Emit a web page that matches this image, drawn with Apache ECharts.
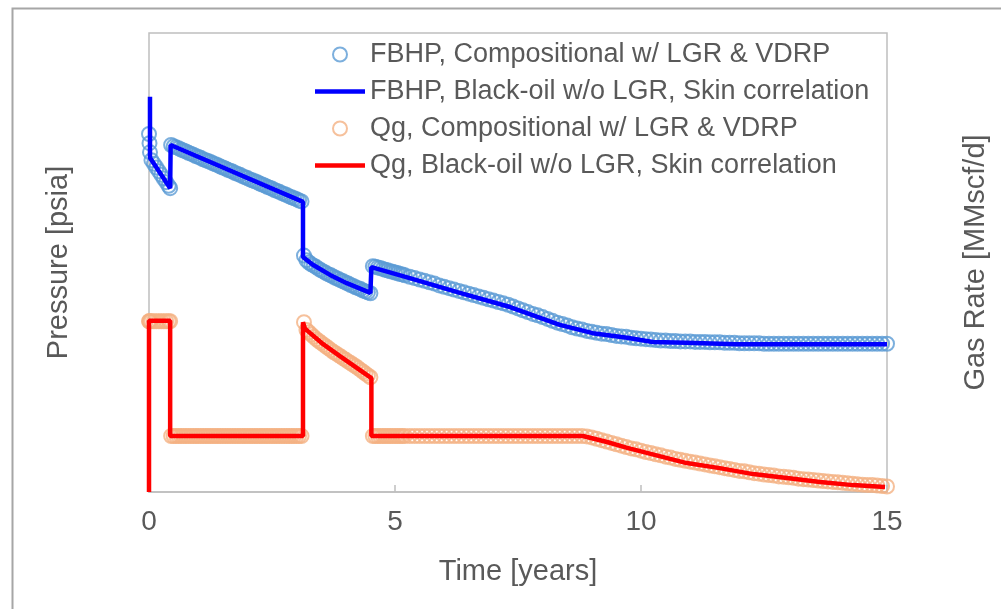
<!DOCTYPE html>
<html>
<head>
<meta charset="utf-8">
<script src="https://cdn.jsdelivr.net/npm/echarts@6/dist/echarts.min.js"></script>
<style>
html,body{margin:0;padding:0;background:#fff;}
#chart{width:1001px;height:609px;}
</style>
</head>
<body>
<div id="chart"></div>
<script>
// ---- Data (y values are relative positions 0-100 on unlabeled axes) ----
var xTicks = [0, 5, 10, 15];
var seriesNames = [
  'FBHP, Compositional w/ LGR & VDRP',
  'FBHP, Black-oil w/o LGR, Skin correlation',
  'Qg, Compositional w/ LGR & VDRP',
  'Qg, Black-oil w/o LGR, Skin correlation'
];

// time [years] of the compositional simulation outputs
var compTime = [
  0,0.01,0.02,0.05,0.1,0.15,0.2,0.25,0.3,0.35,0.4,0.43,
  0.45,0.5,0.55,0.6,0.65,0.7,0.75,0.8,0.85,0.9,
  0.95,1,1.05,1.1,1.15,1.2,1.25,1.3,1.35,1.4,
  1.45,1.5,1.55,1.6,1.65,1.7,1.75,1.8,1.85,1.9,
  1.95,2,2.05,2.1,2.15,2.2,2.25,2.3,2.35,2.4,
  2.45,2.5,2.55,2.6,2.65,2.7,2.75,2.8,2.85,2.9,
  2.95,3,3.05,3.1,
  3.15,3.2,3.25,3.3,3.35,3.4,3.45,3.5,3.55,3.6,
  3.65,3.7,3.75,3.8,3.85,3.9,3.95,4,4.05,4.1,
  4.15,4.2,4.25,4.3,4.35,4.4,4.45,4.5,
  4.55,4.6,4.65,4.7,4.75,4.8,4.85,4.9,4.95,5,5.05,5.1,5.15,5.2,
  5.3,5.4,5.5,5.6,5.7,5.8,5.9,6,6.1,6.2,
  6.3,6.4,6.5,6.6,6.7,6.8,6.9,7,7.1,7.2,
  7.3,7.4,7.5,7.6,7.7,7.8,7.9,8,8.1,8.2,
  8.3,8.4,8.5,8.6,8.7,8.8,8.9,9,9.1,9.2,
  9.3,9.4,9.5,9.6,9.7,9.8,9.9,10,10.1,10.2,
  10.3,10.4,10.5,10.6,10.7,10.8,10.9,11,11.1,11.2,
  11.3,11.4,11.5,11.6,11.7,11.8,11.9,
  12,12.1,12.2,12.3,12.4,12.5,12.6,12.7,12.8,12.9,
  13,13.1,13.2,13.3,13.4,13.5,13.6,13.7,13.8,13.9,
  14,14.1,14.2,14.3,14.4,14.5,14.6,14.7,14.8,14.9,
  15
];

// FBHP, compositional (circles)
var fbhpComp = [
  78.0,76.0,74.0,72.3,71.5,70.7,69.9,69.1,68.3,67.5,66.7,66.2,
  75.6,75.3,75.1,74.9,74.6,74.4,74.2,73.9,73.7,73.5,
  73.2,73.0,72.8,72.5,72.3,72.1,71.9,71.6,71.4,71.2,
  70.9,70.7,70.5,70.2,70.0,69.8,69.5,69.3,69.1,68.8,
  68.6,68.4,68.1,67.9,67.7,67.5,67.2,67.0,66.8,66.5,
  66.3,66.1,65.8,65.6,65.4,65.1,64.9,64.7,64.4,64.2,
  64.0,63.8,63.5,63.3,
  51.5,50.5,50.0,49.6,49.3,49.0,48.6,48.3,48.0,47.7,
  47.4,47.2,46.9,46.6,46.4,46.1,45.9,45.6,45.4,45.1,
  44.9,44.6,44.4,44.2,43.9,43.7,43.5,43.3,
  49.2,49.1,48.9,48.8,48.6,48.4,48.3,48.1,48.0,47.8,47.7,47.5,47.4,47.2,
  46.9,46.6,46.3,46.0,45.7,45.4,45.0,44.7,44.4,44.1,
  43.8,43.5,43.2,42.9,42.6,42.3,42.0,41.7,41.4,41.1,
  40.8,40.4,40.0,39.6,39.2,38.8,38.5,38.1,37.7,37.3,
  36.9,36.6,36.3,35.9,35.6,35.4,35.1,34.9,34.7,34.5,
  34.4,34.2,34.0,33.9,33.8,33.6,33.5,33.4,33.3,33.2,
  33.1,33.0,33.0,32.9,32.9,32.8,32.8,32.8,32.7,32.7,
  32.7,32.6,32.6,32.6,32.5,32.5,32.5,
  32.4,32.4,32.4,32.4,32.4,32.3,32.3,32.3,32.3,32.3,
  32.3,32.3,32.3,32.3,32.3,32.3,32.3,32.3,32.3,32.3,
  32.3,32.3,32.3,32.3,32.3,32.3,32.3,32.3,32.3,32.3,
  32.3
];

// Qg, compositional (circles)
var qgComp = [
  37.2,37.2,37.2,37.2,37.2,37.2,37.2,37.2,37.2,37.2,37.2,37.2,
  12.2,12.2,12.2,12.2,12.2,12.2,12.2,12.2,12.2,12.2,
  12.2,12.2,12.2,12.2,12.2,12.2,12.2,12.2,12.2,12.2,
  12.2,12.2,12.2,12.2,12.2,12.2,12.2,12.2,12.2,12.2,
  12.2,12.2,12.2,12.2,12.2,12.2,12.2,12.2,12.2,12.2,
  12.2,12.2,12.2,12.2,12.2,12.2,12.2,12.2,12.2,12.2,
  12.2,12.2,12.2,12.2,
  37.0,35.3,34.8,34.3,33.8,33.3,32.9,32.5,32.1,31.7,
  31.3,30.9,30.5,30.2,29.8,29.5,29.1,28.8,28.4,28.1,
  27.7,27.4,27.0,26.6,26.2,25.8,25.4,25.0,
  12.2,12.2,12.2,12.2,12.2,12.2,12.2,12.2,12.2,12.2,12.2,12.2,12.2,12.2,
  12.2,12.2,12.2,12.2,12.2,12.2,12.2,12.2,12.2,12.2,
  12.2,12.2,12.2,12.2,12.2,12.2,12.2,12.2,12.2,12.2,
  12.2,12.2,12.2,12.2,12.2,12.2,12.2,12.2,12.2,12.2,
  12.2,12.2,12.2,12.2,12.2,12.2,12.1,11.9,11.6,11.3,
  11.0,10.7,10.4,10.1,9.8,9.5,9.3,9.0,8.7,8.5,
  8.2,8.0,7.7,7.5,7.2,7.0,6.8,6.6,6.4,6.2,
  6.0,5.8,5.6,5.4,5.2,5.0,4.8,
  4.6,4.5,4.3,4.1,4.0,3.8,3.7,3.6,3.4,3.3,
  3.2,3.1,2.9,2.8,2.7,2.6,2.5,2.4,2.3,2.2,
  2.1,2.0,1.9,1.8,1.7,1.6,1.5,1.5,1.4,1.3,
  1.2
];

// Black-oil model lines (vertices)
var boFbhpTime = [0.02,0.02,0.43,0.44,3.13,3.13,3.33,3.68,4.02,4.5,4.52,5.3,6.32,7.34,8.35,9.02,9.72,10.24,10.93,11.95,15];
var boFbhpVal  = [86.1,72.8,66.2,75.6,63.2,51.2,49.5,47.3,45.5,43.4,49.0,46.6,43.4,40.3,36.4,34.6,33.6,32.7,32.5,32.2,32.2];
var boQgTime = [0,0,0.43,0.43,3.13,3.13,3.17,3.54,3.88,4.23,4.52,4.52,8.82,9.31,9.72,9.98,10.93,11.6,12.28,12.97,13.64,14.31,14.96];
var boQgVal  = [0,37.3,37.3,12.2,12.2,37.0,35.6,32.2,29.6,27.0,24.8,12.2,12.2,10.9,9.6,8.9,6.3,5.2,3.9,3.05,2.2,1.5,1.1];

function pairs(xs, ys) {
  var out = [], n = Math.min(xs.length, ys.length);
  for (var i = 0; i < n; i++) out.push([xs[i], ys[i]]);
  return out;
}

var FONT = "'Liberation Sans', Arial, sans-serif";
var TXT = '#595959';
var LINE_ICON = 'path://M0,0H50V4.5H0Z';
var BLUE_C = '#5b9bd5', ORANGE_C = '#f4b183';
var chart = echarts.init(document.getElementById('chart'), null, {renderer: 'canvas'});
chart.setOption({
  animation: false,
  backgroundColor: '#ffffff',
  graphic: [{
    type: 'rect', left: 10, top: 6, z: -10, silent: true,
    shape: {x: 0, y: 0, width: 1100, height: 700},
    style: {fill: 'none', stroke: '#a6a6a6', lineWidth: 2}
  }],
  grid: {
    left: 149, top: 33, right: 114, bottom: 117,
    show: true, borderColor: '#bfbfbf', borderWidth: 1.5, backgroundColor: 'transparent'
  },
  legend: {
    orient: 'vertical', left: 315, top: 41, padding: 0,
    itemWidth: 50, itemHeight: 14, itemGap: 10,
    textStyle: {fontFamily: FONT, fontSize: 27, color: TXT},
    data: [
      {name: seriesNames[0], icon: 'emptyCircle', itemStyle: {color: BLUE_C, borderColor: BLUE_C, borderWidth: 1.8}},
      {name: seriesNames[1], icon: LINE_ICON, itemStyle: {color: '#0000ff'}},
      {name: seriesNames[2], icon: 'emptyCircle', itemStyle: {color: ORANGE_C, borderColor: ORANGE_C, borderWidth: 1.8}},
      {name: seriesNames[3], icon: LINE_ICON, itemStyle: {color: '#ff0000'}}
    ]
  },
  xAxis: {
    type: 'value', min: 0, max: 15, interval: 5,
    name: 'Time [years]', nameLocation: 'middle', nameGap: 65,
    nameTextStyle: {fontFamily: FONT, fontSize: 29, color: TXT},
    axisLine: {show: true, lineStyle: {color: '#bfbfbf', width: 1.5}},
    axisTick: {show: true, inside: true, length: 7, lineStyle: {color: '#bfbfbf', width: 1.5}},
    axisLabel: {fontFamily: FONT, fontSize: 28, color: TXT, margin: 16,
      formatter: function (v) { return xTicks.indexOf(v) >= 0 ? String(v) : ''; }},
    splitLine: {show: false}
  },
  yAxis: [{
    type: 'value', min: 0, max: 100, position: 'left',
    name: 'Pressure [psia]', nameLocation: 'middle', nameGap: 76, nameRotate: 90,
    nameTextStyle: {fontFamily: FONT, fontSize: 29, color: TXT},
    axisLine: {show: false}, axisTick: {show: false}, axisLabel: {show: false}, splitLine: {show: false}
  }, {
    type: 'value', min: 0, max: 100, position: 'right',
    name: 'Gas Rate [MMscf/d]', nameLocation: 'middle', nameGap: 74, nameRotate: 90,
    nameTextStyle: {fontFamily: FONT, fontSize: 29, color: TXT},
    axisLine: {show: false}, axisTick: {show: false}, axisLabel: {show: false}, splitLine: {show: false}
  }],
  series: [{
    name: seriesNames[0], type: 'scatter', yAxisIndex: 0, z: 2,
    symbol: 'circle', symbolSize: 14,
    itemStyle: {color: 'rgba(255,255,255,0)', borderColor: BLUE_C, borderWidth: 2},
    data: pairs(compTime, fbhpComp)
  }, {
    name: seriesNames[1], type: 'line', yAxisIndex: 0, z: 4,
    symbol: 'none', showSymbol: false,
    itemStyle: {color: '#0000ff'},
    lineStyle: {color: '#0000ff', width: 4.5},
    data: pairs(boFbhpTime, boFbhpVal)
  }, {
    name: seriesNames[2], type: 'scatter', yAxisIndex: 1, z: 2,
    symbol: 'circle', symbolSize: 14,
    itemStyle: {color: 'rgba(255,255,255,0)', borderColor: ORANGE_C, borderWidth: 2},
    data: pairs(compTime, qgComp)
  }, {
    name: seriesNames[3], type: 'line', yAxisIndex: 1, z: 4,
    symbol: 'none', showSymbol: false,
    itemStyle: {color: '#ff0000'},
    lineStyle: {color: '#ff0000', width: 4.5},
    data: pairs(boQgTime, boQgVal)
  }]
});
</script>
</body>
</html>
